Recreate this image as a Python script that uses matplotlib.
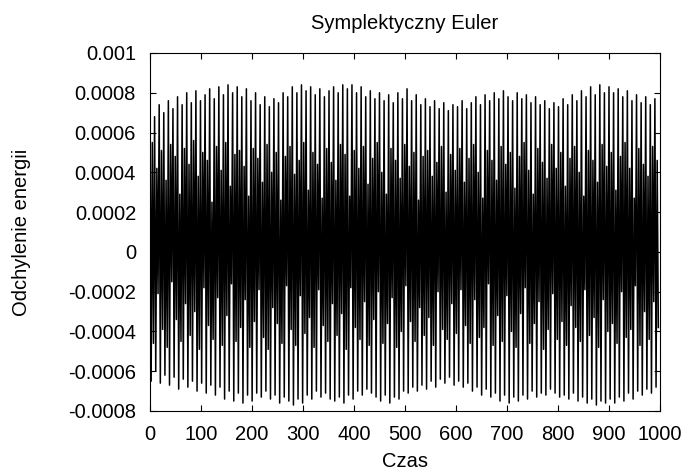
import matplotlib
matplotlib.use("Agg")
import matplotlib.pyplot as plt
import numpy as np

plt.rcParams['font.family'] = ['Liberation Sans', 'DejaVu Sans']

# energy deviation, one cycle ~ 9 time units, values in units of 1e-4
okres = 9.0
szczyty = [7.3, 6.8, 7.4, 7.0, 7.6, 7.2, 7.8, 7.4, 8.0, 7.5,
           8.1, 7.6, 7.9, 8.2, 7.7, 8.3, 7.9, 8.4, 8.0, 8.3,
           7.8, 8.2, 7.6, 8.0, 7.4, 7.8, 7.3, 7.7, 7.5, 8.0,
           7.8, 8.3, 8.0, 8.4, 8.1, 8.3, 7.9, 8.2, 7.8, 8.1,
           8.3, 8.0, 8.4, 8.2, 8.4, 8.0, 8.3, 7.8, 8.1, 7.7,
           8.0, 7.6, 7.9, 7.5, 8.0, 7.7, 8.2, 7.6, 7.9, 7.4,
           7.7, 7.3, 7.6, 7.2, 7.5, 7.1, 7.4, 7.3, 7.6, 7.2,
           7.5, 7.8, 7.4, 7.9, 7.6, 8.0, 7.7, 8.1, 7.8, 7.6,
           8.0, 7.7, 7.9, 7.5, 7.8, 7.4, 7.6, 7.2, 7.5, 7.3,
           7.7, 7.4, 7.9, 7.6, 8.1, 7.8, 8.3, 7.9, 8.4, 8.0,
           8.3, 8.0, 8.2, 7.8, 8.1, 7.6, 7.9, 7.5, 7.8, 7.4, 7.7]
doliny = [-6.5, -6.0, -6.6, -6.2, -6.7, -6.3, -6.9, -6.4, -6.8, -6.5,
          -7.0, -6.6, -7.1, -6.7, -7.2, -6.8, -7.4, -7.0, -7.5, -7.1,
          -7.6, -7.2, -7.5, -7.1, -7.3, -7.0, -7.4, -7.2, -7.6, -7.3,
          -7.5, -7.7, -7.4, -7.6, -7.2, -7.4, -7.0, -7.3, -7.1, -7.4,
          -7.5, -7.3, -7.6, -7.2, -7.4, -7.0, -7.2, -6.9, -7.1, -7.3,
          -7.5, -7.2, -7.6, -7.3, -7.4, -7.0, -7.1, -6.8, -7.0, -6.7,
          -6.9, -6.5, -6.8, -6.4, -6.6, -6.3, -6.7, -6.5, -6.8, -6.6,
          -7.0, -6.8, -7.2, -6.9, -7.3, -7.1, -7.5, -7.2, -7.6, -7.3,
          -7.5, -7.2, -7.4, -7.0, -7.3, -7.1, -7.2, -6.9, -7.1, -7.3,
          -7.2, -7.4, -7.1, -7.5, -7.3, -7.6, -7.4, -7.7, -7.5, -7.6,
          -7.4, -7.6, -7.3, -7.5, -7.1, -7.4, -7.0, -7.2, -6.9, -7.1, -6.8]
srednie_gora = [5.5, 4.2, 5.1, 3.6, 5.4, 4.8, 2.9, 5.2, 4.4, 5.6,
                3.8, 5.0, 4.6, 2.5, 5.3, 4.1, 5.5, 3.3, 4.9, 5.1,
                4.3, 2.8, 5.2, 4.7, 3.5, 5.4, 4.0, 5.0, 2.6, 4.8,
                5.3, 3.9, 4.6, 5.5, 3.1, 5.0, 4.4, 2.7, 5.2, 4.5,
                3.6, 5.4, 4.9, 2.8, 5.1, 4.2, 5.3, 3.4, 4.7, 5.5,
                4.0, 2.9, 5.2, 4.6, 3.7, 5.4, 4.3, 5.0, 2.6, 4.8,
                5.1, 3.8, 4.5, 5.3, 3.0, 4.9, 4.1, 5.2, 3.5, 4.7,
                5.4, 4.0, 2.7, 5.1, 4.6, 3.6, 5.3, 4.4, 5.0, 3.2,
                4.8, 5.5, 4.1, 2.9, 5.2, 4.5, 3.7, 5.4, 4.2, 5.0,
                3.3, 4.7, 5.3, 4.0, 2.8, 5.1, 4.6, 3.5, 5.4, 4.3,
                5.0, 3.1, 4.8, 5.5, 4.2, 2.7, 5.2, 4.4, 3.8, 5.3, 4.6]
srednie_dol = [-4.6, -2.1, -3.9, -4.8, -1.5, -3.4, -4.5, -2.6, -4.2, -3.0,
               -4.9, -1.8, -3.7, -4.4, -2.3, -4.7, -3.2, -1.6, -4.5, -3.8,
               -2.4, -4.8, -3.5, -1.9, -4.3, -4.9, -2.8, -3.6, -4.6, -1.7,
               -3.9, -4.7, -2.2, -4.1, -3.3, -4.8, -1.9, -3.7, -4.5, -2.6,
               -4.2, -3.1, -4.9, -1.8, -3.8, -4.4, -2.5, -4.7, -3.4, -2.0,
               -4.6, -3.6, -2.3, -4.8, -4.0, -1.7, -3.5, -4.5, -2.8, -4.2,
               -3.3, -4.7, -2.0, -3.9, -4.4, -2.6, -4.1, -1.9, -3.7, -4.6,
               -2.4, -4.3, -3.8, -1.6, -4.7, -3.2, -4.5, -2.2, -4.0, -4.8,
               -3.1, -1.8, -4.6, -3.6, -2.5, -4.9, -3.9, -2.1, -4.4, -3.5,
               -4.7, -2.7, -3.8, -4.5, -1.9, -4.2, -3.3, -4.8, -2.4, -4.0,
               -3.6, -4.6, -2.0, -4.3, -3.9, -1.7, -4.7, -3.0, -4.4, -2.5, -3.8]

yticks = [0.001, 0.0008, 0.0006, 0.0004, 0.0002, 0, -0.0002, -0.0004, -0.0006, -0.0008]
ytick_labels = ['0.001', '0.0008', '0.0006', '0.0004', '0.0002', '0',
                '-0.0002', '-0.0004', '-0.0006', '-0.0008']
xticks = [0, 100, 200, 300, 400, 500, 600, 700, 800, 900, 1000]

# one cycle: high, low, middle high, middle low
wartosci = np.column_stack([szczyty, doliny, srednie_gora, srednie_dol]).ravel() * 1e-4
czas = np.arange(len(wartosci)) * okres / 4.0

fig = plt.figure(figsize=(6.91, 4.75), dpi=100)
ax = fig.add_axes([150 / 691, 1 - 411 / 475, 510 / 691, 358 / 475])
ax.plot(czas, wartosci, color='black', lw=1.1)

ax.set_xlim(0, 1000)
ax.set_ylim(-0.0008, 0.001)
ax.set_xticks(xticks)
ax.set_yticks(yticks)
ax.set_yticklabels(ytick_labels)
ax.tick_params(axis='both', direction='in', top=True, right=True, length=4,
               width=0.8, labelsize=14.5)
ax.tick_params(axis='x', pad=10)
ax.tick_params(axis='y', pad=10)
for s in ax.spines.values():
    s.set_linewidth(0.8)

ax.set_title('Symplektyczny Euler', fontsize=14.5, pad=17)
ax.set_xlabel('Czas', fontsize=14.5, labelpad=6)
ax.set_ylabel('Odchylenie energii', fontsize=14.5, labelpad=27)

fig.savefig('out.png', dpi=100)
